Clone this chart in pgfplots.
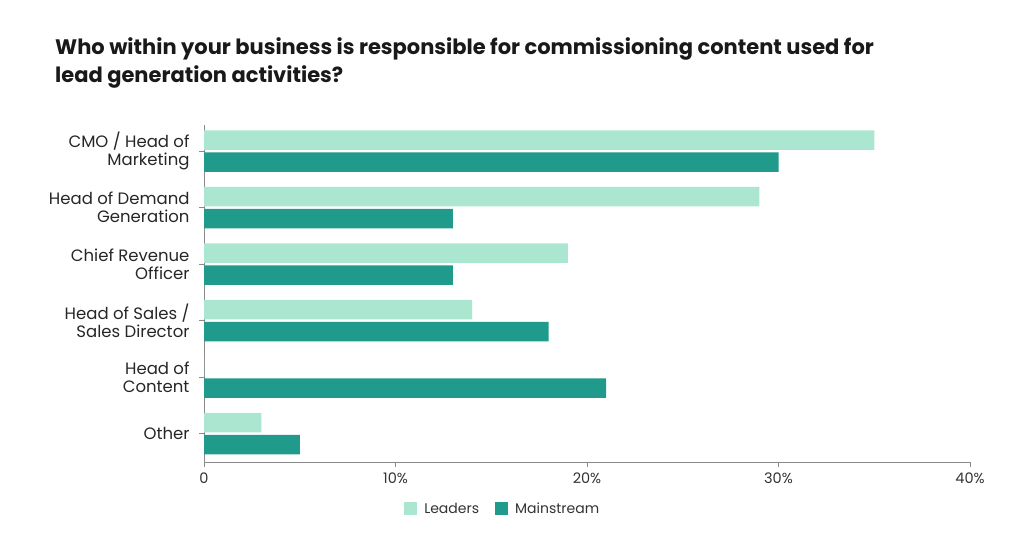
\documentclass[border=0pt]{standalone}
\usepackage{pgfplots}
\pgfplotsset{compat=1.18}
\usepackage{fontspec}
\setmainfont{Poppins}
\definecolor{leaders}{HTML}{ABE6D1}
\definecolor{mainstream}{HTML}{1F9A8B}
\definecolor{axisgray}{HTML}{8A8A8A}
\begin{document}
\begin{tikzpicture}
\useasboundingbox (0pt,0pt) rectangle (1024pt,538pt);
\node[anchor=base west,font=\bfseries\fontsize{21}{25}\selectfont,text=black!90,inner sep=0pt] at (55pt,483pt) {Who within your business is responsible for commissioning content used for};
\node[anchor=base west,font=\bfseries\fontsize{21}{25}\selectfont,text=black!90,inner sep=0pt] at (55pt,455pt) {lead generation activities?};
\begin{axis}[
  at={(204pt,76pt)}, anchor=south west,
  scale only axis, width=766pt, height=337pt,
  xmin=0, xmax=40, ymin=-0.5, ymax=5.46,
  axis lines*=left,
  axis line style={axisgray, line width=1pt},
  xtick={0,10,20,30,40},
  xticklabels={0,10\%,20\%,30\%,40\%},
  ytick={0,1,2,3,4,5},
  yticklabels={Other,Head of\\Content,Head of Sales /\\Sales Director,Chief Revenue\\Officer,Head of Demand\\Generation,CMO / Head of\\Marketing},
  tick style={axisgray, line width=0.8pt},
  major tick length=5pt,
  tick align=outside,
  xticklabel style={font=\fontsize{14.5}{16}\selectfont, text=black!80, yshift=-2pt},
  yticklabel style={font=\fontsize{16.5}{18}\selectfont, text=black!85, align=right, xshift=-6pt},
  xbar, bar width=19.5pt,
  legend style={at={(0.39,-0.11)}, anchor=north, draw=none, legend columns=2, font=\fontsize{14}{16}\selectfont, text=black!80,
    /tikz/every even column/.append style={column sep=14pt},
    /tikz/every odd column/.append style={column sep=5pt}},
  legend image code/.code={\fill[#1] (0pt,-5.5pt) rectangle (13pt,7pt);},
]
\addplot[fill=leaders, draw=none, bar shift=11pt] coordinates {(35,5) (29,4) (19,3) (14,2) (0,1) (3,0)};
\addplot[fill=mainstream, draw=none, bar shift=-11pt] coordinates {(30,5) (13,4) (13,3) (18,2) (21,1) (5,0)};
\legend{Leaders,Mainstream}
\end{axis}
\end{tikzpicture}
\end{document}
